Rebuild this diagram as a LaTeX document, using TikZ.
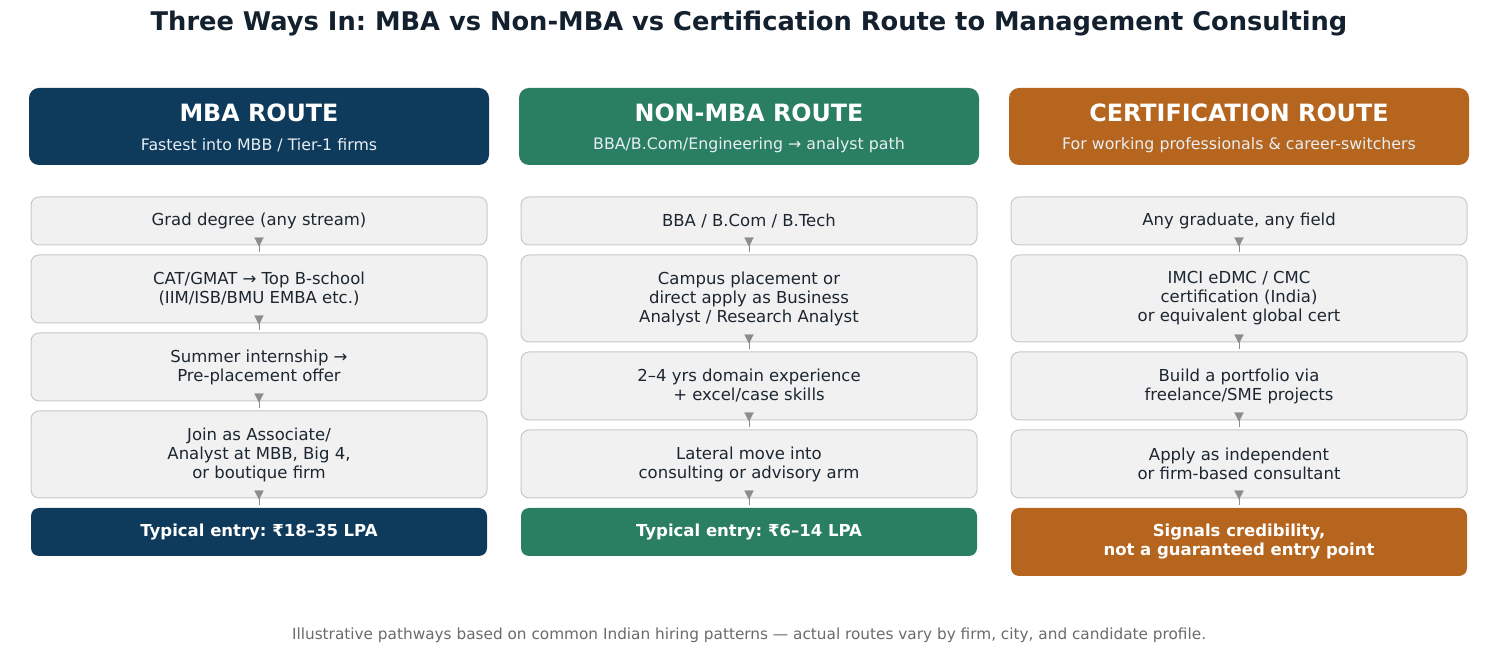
\documentclass[tikz,border=0pt]{standalone}
\usepackage{fontspec}
\setmainfont{DejaVu Sans}
\usetikzlibrary{arrows.meta,calc}
\definecolor{navy}{HTML}{0E3A5B}
\definecolor{routegreen}{HTML}{2A7F62}
\definecolor{routeorange}{HTML}{B5651E}
\definecolor{boxfill}{HTML}{F1F1F1}
\definecolor{boxborder}{HTML}{C8C8C8}
\definecolor{textdark}{HTML}{1C2631}
\definecolor{titlecol}{HTML}{13202E}
\definecolor{arrowgray}{HTML}{8C8C8C}
\definecolor{footgray}{HTML}{6B6B6B}
\definecolor{subwhite}{HTML}{E8EEF3}
\frenchspacing
\begin{document}
\begin{tikzpicture}[x=0.5pt,y=-0.5pt,
  hdr/.style={rounded corners=5pt, minimum width=230pt, minimum height=38.5pt, inner sep=0pt},
  hdrtitle/.style={text=white, font=\bfseries\fontsize{11.9}{13}\selectfont, inner sep=0pt},
  hdrsub/.style={text=subwhite, font=\fontsize{7.9}{9}\selectfont, inner sep=0pt},
  stepbox/.style={draw=boxborder, fill=boxfill, line width=0.5pt, rounded corners=4pt,
     minimum width=228pt, inner sep=0pt, align=center, text=textdark,
     font=\fontsize{8.25}{9.5}\selectfont},
  resbox/.style={rounded corners=4pt, minimum width=228pt, inner sep=0pt, align=center,
     text=white, font=\bfseries\fontsize{8.25}{9.5}\selectfont},
  conn/.style={draw=arrowgray, line width=0.1pt, -{Triangle[length=4.5pt,width=4.6pt]},
     shorten <=-3.5pt, shorten >=4pt}
]
\useasboundingbox[fill=white] (0,0) rectangle (1498,656);

% title
\node[text=titlecol, font=\bfseries\fontsize{12.85}{15}\selectfont, inner sep=0pt] (title) at (749,24)
  {Three Ways In: MBA vs Non-MBA vs Certification Route to Management Consulting};

% headers
\node[hdr, fill=navy] (h1) at (259,126.5) {};
\node[hdrtitle] (h1t) at (259,113) {MBA ROUTE};
\node[hdrsub] (h1s) at (259,145) {Fastest into MBB / Tier-1 firms};

\node[hdr, fill=routegreen] (h2) at (749,126.5) {};
\node[hdrtitle] (h2t) at (749,113) {NON-MBA ROUTE};
\node[hdrsub] (h2s) at (749,145) {BBA/B.Com/Engineering → analyst path};

\node[hdr, fill=routeorange] (h3) at (1239,126.5) {};
\node[hdrtitle] (h3t) at (1239,113) {CERTIFICATION ROUTE};
\node[hdrsub] (h3s) at (1239,145) {For working professionals \& career-switchers};

% column 1
\node[stepbox, minimum height=24pt] (a1) at (259,221) {Grad degree (any stream)};
\node[stepbox, minimum height=34pt] (a2) at (259,289) {CAT/GMAT → Top B-school\\(IIM/ISB/BMU EMBA etc.)};
\node[stepbox, minimum height=34pt] (a3) at (259,367) {Summer internship →\\Pre-placement offer};
\node[stepbox, minimum height=43.5pt] (a4) at (259,454.5) {Join as Associate/\\Analyst at MBB, Big 4,\\or boutique firm};
\node[resbox, fill=navy, minimum height=24pt] (a5) at (259,532) {Typical entry: ₹18–35 LPA};

% column 2
\node[stepbox, minimum height=24pt] (b1) at (749,221) {BBA / B.Com / B.Tech};
\node[stepbox, minimum height=43.5pt] (b2) at (749,298.5) {Campus placement or\\direct apply as Business\\Analyst / Research Analyst};
\node[stepbox, minimum height=34pt] (b3) at (749,386) {2–4 yrs domain experience\\+ excel/case skills};
\node[stepbox, minimum height=34pt] (b4) at (749,464) {Lateral move into\\consulting or advisory arm};
\node[resbox, fill=routegreen, minimum height=24pt] (b5) at (749,532) {Typical entry: ₹6–14 LPA};

% column 3
\node[stepbox, minimum height=24pt] (c1) at (1239,221) {Any graduate, any field};
\node[stepbox, minimum height=43.5pt] (c2) at (1239,298.5) {IMCI eDMC / CMC\\certification (India)\\or equivalent global cert};
\node[stepbox, minimum height=34pt] (c3) at (1239,386) {Build a portfolio via\\freelance/SME projects};
\node[stepbox, minimum height=34pt] (c4) at (1239,464) {Apply as independent\\or firm-based consultant};
\node[resbox, fill=routeorange, minimum height=34pt] (c5) at (1239,542) {Signals credibility,\\not a guaranteed entry point};

% connectors
\foreach \col in {a,b,c}{
  \draw[conn] (\col1.south) -- (\col2.north);
  \draw[conn] (\col2.south) -- (\col3.north);
  \draw[conn] (\col3.south) -- (\col4.north);
  \draw[conn] (\col4.south) -- (\col5.north);
}

% footnote
\node[text=footgray, font=\fontsize{7.65}{9}\selectfont, inner sep=0pt] (foot) at (749,635)
  {Illustrative pathways based on common Indian hiring patterns — actual routes vary by firm, city, and candidate profile.};
\end{tikzpicture}
\end{document}
